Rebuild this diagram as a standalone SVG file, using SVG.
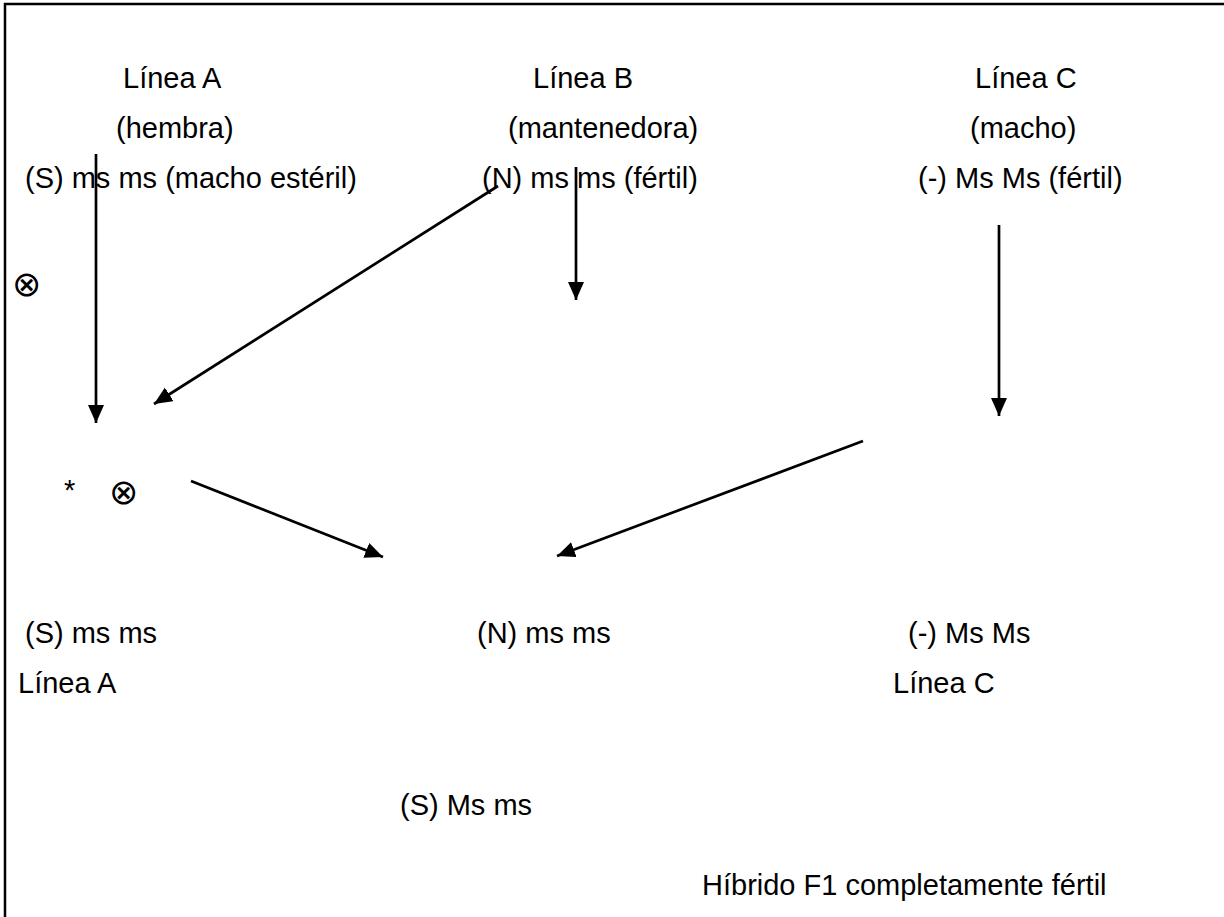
<svg xmlns="http://www.w3.org/2000/svg" width="1224" height="917" viewBox="0 0 1224 917">
<style>
text{font-family:"Liberation Sans",Arial,sans-serif;font-size:29px;fill:#000}
.sym{font-family:"DejaVu Sans",sans-serif;font-size:35px;font-weight:200}
.c line{stroke:#000;stroke-width:2.7;marker-end:url(#ah)}
</style>
<defs>
<marker id="ah" markerUnits="userSpaceOnUse" markerWidth="19" markerHeight="17" refX="18" refY="8" orient="auto">
<path d="M0,0 L18,8 L0,16 z" fill="#000"/>
</marker>
</defs>
<rect width="1224" height="917" fill="#fff"/>
<g id="frame" stroke="#000" stroke-width="2.5" fill="none">
<line x1="4" y1="4" x2="1224" y2="4"/>
<line x1="5" y1="3" x2="5" y2="917"/>
</g>
<g id="lineaA">
<text x="123" y="88">Línea A</text>
<text x="116" y="138">(hembra)</text>
<text x="25" y="188">(S) ms ms (macho estéril)</text>
</g>
<g id="lineaB">
<text x="533" y="88">Línea B</text>
<text x="508" y="138">(mantenedora)</text>
<text x="482" y="188">(N) ms ms (fértil)</text>
</g>
<g id="lineaC">
<text x="975" y="88">Línea C</text>
<text x="970" y="138">(macho)</text>
<text x="918" y="188">(-) Ms Ms (fértil)</text>
</g>
<g id="self1"><text class="sym" x="12" y="296">⊗</text></g>
<g id="self2"><text x="64" y="500">*</text><text class="sym" x="109" y="504">⊗</text></g>
<g id="resA">
<text x="25" y="643">(S) ms ms</text>
<text x="18" y="693">Línea A</text>
</g>
<g id="resB"><text x="477" y="643">(N) ms ms</text></g>
<g id="resC">
<text x="908" y="643">(-) Ms Ms</text>
<text x="893" y="693">Línea C</text>
</g>
<g id="hybrid">
<text x="400" y="815">(S) Ms ms</text>
<text x="702" y="895">Híbrido F1 completamente fértil</text>
</g>
<g id="connectors" class="c">
<line x1="96" y1="154" x2="96" y2="423"/>
<line x1="498" y1="186" x2="154" y2="404"/>
<line x1="576" y1="167" x2="576" y2="300"/>
<line x1="999" y1="225" x2="999" y2="416"/>
<line x1="191" y1="481" x2="383" y2="557"/>
<line x1="863" y1="441" x2="557" y2="556"/>
</g>
</svg>
